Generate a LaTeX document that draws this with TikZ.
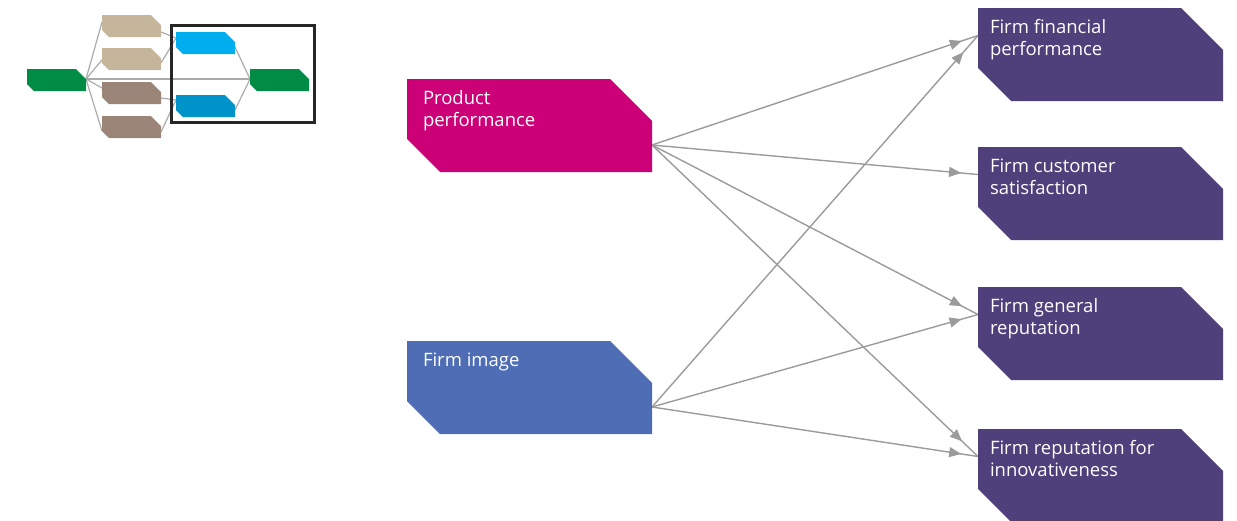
\documentclass[tikz,border=0pt]{standalone}
\usepackage{fontspec}
\setmainfont{Open Sans}
\usetikzlibrary{arrows.meta,decorations.markings,backgrounds,calc}

\definecolor{prodcol}{HTML}{CC0077}
\definecolor{imgcol}{HTML}{4F6DB5}
\definecolor{outcol}{HTML}{4F3F7B}
\definecolor{tancol}{HTML}{C4B59B}
\definecolor{browncol}{HTML}{9B8579}
\definecolor{greencol}{HTML}{008C44}
\definecolor{skycol}{HTML}{00AEEF}
\definecolor{deepcol}{HTML}{0093C9}
\definecolor{linkcol}{HTML}{9B9B9B}
\definecolor{thincol}{HTML}{ABABAB}

% text block of a large tag: left inset, first baseline, lines
\newcommand\tagtext[3]{\parbox[c][93pt][t]{245pt}{\leftskip=#1pt\relax
  \baselineskip=22.5pt\relax\rule{0pt}{#2pt}#3}}

\tikzset{
  bigtag/.style={inner sep=0pt, outer sep=0pt, anchor=north west, text=white,
    font=\fontsize{18.5}{22.5}\selectfont,
    path picture={\fill[#1]
      (path picture bounding box.north west)
      -- ([xshift=-42pt]path picture bounding box.north east)
      -- ([yshift=-42pt]path picture bounding box.north east)
      -- (path picture bounding box.south east)
      -- ([xshift=33pt]path picture bounding box.south west)
      -- ([yshift=33pt]path picture bounding box.south west) -- cycle;}},
  smalltag/.style={inner sep=0pt, outer sep=0pt, anchor=north west,
    minimum width=59pt, minimum height=22pt,
    path picture={\fill[#1]
      (path picture bounding box.north west)
      -- ([xshift=-10pt]path picture bounding box.north east)
      -- ([yshift=-10pt]path picture bounding box.north east)
      -- (path picture bounding box.south east)
      -- ([xshift=7pt]path picture bounding box.south west)
      -- ([yshift=7pt]path picture bounding box.south west) -- cycle;}},
  flow/.style={draw=linkcol, line width=1.4pt,
    postaction={decorate},
    decoration={markings, mark=at position -#1pt with
      {\arrow[linkcol]{Triangle[length=12pt,width=10pt]}}}},
  flow/.default=17,
  thin link/.style={draw=thincol, line width=1.2pt},
}

\begin{document}
\begin{tikzpicture}[x=1pt, y=-1pt]
\useasboundingbox (0,0) rectangle (1237,520);

% ---------- small overview sketch ----------
\node[smalltag=greencol] (g1) at (27,69) {};
\node[smalltag=tancol] (t1) at (102,15) {};
\node[smalltag=tancol] (t2) at (102,48) {};
\node[smalltag=browncol] (b1) at (102,82) {};
\node[smalltag=browncol] (b2) at (102,116) {};
\node[smalltag=skycol] (c1) at (176,32) {};
\node[smalltag=deepcol] (c2) at (176,95) {};
\node[smalltag=greencol] (g2) at (250,69) {};
\node[draw=black!85, line width=3pt, inner sep=0pt, outer sep=0pt,
      anchor=north west, minimum width=143pt, minimum height=97pt]
      (frame) at (171.5,25.5) {};

\begin{scope}[on background layer]
  \coordinate (hub) at ([yshift=1pt]g1.east);
  \draw[thin link] (hub) -- ([yshift=4pt]t1.west);
  \draw[thin link] (hub) -- ([yshift=-1pt]t2.west);
  \draw[thin link] (hub) -- ([yshift=5pt]b1.west);
  \draw[thin link] (hub) -- ([yshift=-4pt]b2.west);
  \draw[thin link] (hub) -- ([yshift=1pt]g2.west);
  \draw[thin link] ([yshift=-6pt]t1.east) -- ([yshift=5pt]c1.west);
  \draw[thin link] ([yshift=-4pt]t2.east) -- ([yshift=5pt]c1.west);
  \draw[thin link] ([yshift=-5pt]b1.east) -- ([yshift=6pt]c2.west);
  \draw[thin link] ([yshift=-5pt]b2.east) -- ([yshift=6pt]c2.west);
  \draw[thin link] ([yshift=-4pt]c1.east) -- ([yshift=1pt]g2.west);
  \draw[thin link] ([yshift=-4pt]c2.east) -- ([yshift=1pt]g2.west);
\end{scope}

% ---------- drivers ----------
\node[bigtag=prodcol] (pp) at (407,79) {\tagtext{16}{25}{Product\\performance}};
\node[bigtag=imgcol] (fi) at (407,341) {\tagtext{16}{25}{Firm image}};

% ---------- outcomes ----------
\node[bigtag=outcol] (o1) at (978,8) {\tagtext{12}{25}{Firm financial\\performance}};
\node[bigtag=outcol] (o2) at (978,147) {\tagtext{12}{25}{Firm customer\\satisfaction}};
\node[bigtag=outcol] (o3) at (978,287) {\tagtext{12}{25}{Firm general\\reputation}};
\node[bigtag=outcol] (o4) at (978,429) {\tagtext{12}{25}{Firm reputation for\\innovativeness}};

\coordinate (ppout) at ([yshift=-19.5pt]pp.east);
\coordinate (fiout) at ([yshift=-19.5pt]fi.east);
\coordinate (o1in) at ([yshift=19pt]o1.west);
\coordinate (o2in) at ([yshift=19pt]o2.west);
\coordinate (o3in) at ([yshift=19pt]o3.west);
\coordinate (o4in) at ([yshift=19pt]o4.west);

\begin{scope}[on background layer]
  \draw[flow] (ppout) -- (o1in);
  \draw[flow] (ppout) -- (o2in);
  \draw[flow=18] (ppout) -- (o3in);
  \draw[flow=22] (ppout) -- (o4in);
  \draw[flow=22] (fiout) -- (o1in);
  \draw[flow] (fiout) -- (o3in);
  \draw[flow] (fiout) -- (o4in);
\end{scope}
\end{tikzpicture}
\end{document}
